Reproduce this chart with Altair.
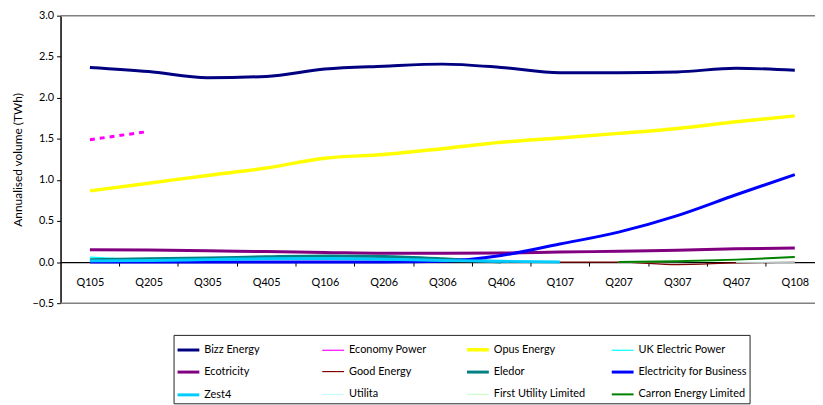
import altair as alt
import pandas as pd

quarters = ["Q105", "Q205", "Q305", "Q405", "Q106", "Q206", "Q306",
            "Q406", "Q107", "Q207", "Q307", "Q407", "Q108"]

series_names = ["Bizz Energy", "Economy Power", "Opus Energy", "UK Electric Power",
                "Ecotricity", "Good Energy", "Eledor", "Electricity for Business",
                "Zest4", "Utilita", "First Utility Limited", "Carron Energy Limited"]

series_colors = ["#000080", "#FF00FF", "#FFFF00", "#00FFFF",
                 "#800080", "#800000", "#008080", "#0000FF",
                 "#00CCFF", "#CCFFFF", "#CCFFCC", "#008000"]

series_widths = [3, 1.2, 3.5, 1.2, 3, 1.2, 3, 3, 3, 1.2, 1.2, 2]

N = None
bizz_energy = [2.37, 2.32, 2.245, 2.26, 2.35, 2.385, 2.41, 2.37, 2.305, 2.305, 2.315, 2.36, 2.335]
economy_power = [1.49, 1.59, N, N, N, N, N, N, N, N, N, N, N]
opus_energy = [0.867, 0.96, 1.055, 1.145, 1.265, 1.31, 1.38, 1.458, 1.511, 1.567, 1.627, 1.708, 1.78]
uk_electric_power = [0.06, 0.025, N, N, N, N, N, N, N, N, N, N, N]
ecotricity = [0.15, 0.148, 0.138, 0.128, 0.118, 0.108, 0.107, 0.11, 0.122, 0.132, 0.143, 0.162, 0.172]
good_energy = [N, N, N, N, N, N, N, N, 0.0, 0.0, -0.03, -0.01, 0.0]
eledor = [0.03, 0.04, 0.05, 0.065, 0.075, 0.068, 0.04, 0.0, N, N, N, N, N]
electricity_for_business = [0.0, 0.0, 0.0, 0.0, 0.0, 0.0, 0.01, 0.08, 0.22, 0.365, 0.566, 0.82, 1.065]
zest4 = [0.015, 0.02, 0.03, 0.04, 0.045, 0.035, 0.02, 0.01, 0.0, N, N, N, N]
utilita = [N, N, N, N, N, N, N, N, N, N, N, 0.0, 0.0]
first_utility = [N, N, N, N, N, N, N, N, N, 0.0, 0.005, 0.025, 0.07]
carron_energy = [N, N, N, N, N, N, N, N, N, 0.0, 0.01, 0.03, 0.062]

values = [bizz_energy, economy_power, opus_energy, uk_electric_power, ecotricity,
          good_energy, eledor, electricity_for_business, zest4, utilita,
          first_utility, carron_energy]

rows = []
for s_i, (name, vals) in enumerate(zip(series_names, values)):
    for q_i, v in enumerate(vals):
        if v is not None:
            rows.append({"series": name, "order": s_i, "idx": q_i,
                         "quarter": quarters[q_i], "value": v})
df = pd.DataFrame(rows)

W, H = 761, 290
FONT = "Lato"
x_max = -0.5 + W / 59.25
y_min, y_max = -0.5, 3.0
zero_offset = -(H - H * (y_max - 0) / (y_max - y_min))

x_scale = alt.Scale(domain=[-0.5, x_max], nice=False, zero=False)
y_scale = alt.Scale(domain=[y_min, y_max], nice=False, zero=False)
color_scale = alt.Scale(domain=series_names, range=series_colors)
width_scale = alt.Scale(type="ordinal", domain=series_names, range=series_widths)

label_expr = "[" + ",".join("'%s'" % q for q in quarters) + "][datum.value]"

legend = alt.Legend(
    orient="none", legendX=114, legendY=322, columns=4, direction="horizontal",
    title=None, symbolType="stroke", symbolSize=484, strokeColor="#222222",
    fillColor="white", padding=2, rowPadding=3, columnPadding=2,
    labelFont=FONT, labelFontSize=11, labelColor="black", labelOffset=3,
    gridAlign="all", labelLimit=300,
)

main = alt.Chart(df).transform_filter(
    alt.datum.series != "Economy Power"
).mark_line(interpolate="monotone").encode(
    x=alt.X("idx:Q", scale=x_scale,
            axis=alt.Axis(values=list(range(len(quarters))), labelExpr=label_expr,
                          ticks=False, domain=False, grid=False, title=None,
                          labelFont=FONT, labelFontSize=11, labelColor="black",
                          labelPadding=15, offset=zero_offset, orient="bottom")),
    y=alt.Y("value:Q", scale=y_scale,
            axis=alt.Axis(values=[-0.5, 0, 0.5, 1.0, 1.5, 2.0, 2.5, 3.0], format=".1f",
                          grid=False, domainColor="black", domainWidth=1.5,
                          tickColor="black", tickSize=4, labelFont=FONT,
                          labelFontSize=11, labelColor="black", labelPadding=3,
                          title="Annualised volume (TWh)", titleFont=FONT,
                          titleFontSize=12, titleFontWeight="normal",
                          titleColor="black", titlePadding=8)),
    color=alt.Color("series:N", scale=color_scale, legend=legend),
    strokeWidth=alt.StrokeWidth("series:N", scale=width_scale, legend=legend),
    detail="series:N",
    order="order:Q",
)

econ = alt.Chart(df).transform_filter(
    alt.datum.series == "Economy Power"
).mark_line(strokeDash=[5, 5], strokeWidth=3, color=series_colors[1]).encode(
    x=alt.X("idx:Q", scale=x_scale, axis=None),
    y=alt.Y("value:Q", scale=y_scale),
)

frame_df = pd.DataFrame({"x": [-0.5, -0.5], "x2": [x_max, x_max], "y": [y_max, y_min]})
frame = alt.Chart(frame_df).mark_rule(color="#808080", strokeWidth=1.5).encode(
    x=alt.X("x:Q", scale=x_scale,
            axis=alt.Axis(values=[i + 0.5 for i in range(len(quarters) - 1)],
                          labels=False, ticks=True, tickSize=4, tickColor="black",
                          domain=True, domainColor="black", domainWidth=1.2,
                          grid=False, title=None, offset=zero_offset, orient="bottom")),
    x2="x2:Q",
    y=alt.Y("y:Q", scale=y_scale),
)

chart = alt.layer(frame, main, econ).resolve_axis(x="independent").properties(
    width=W, height=H,
    autosize=alt.AutoSizeParams(type="none"),
    padding={"left": 53, "top": 6, "right": 0, "bottom": 103},
).configure_view(stroke=None)

chart.save("out.html", embed_options={"renderer": "svg", "actions": False})
